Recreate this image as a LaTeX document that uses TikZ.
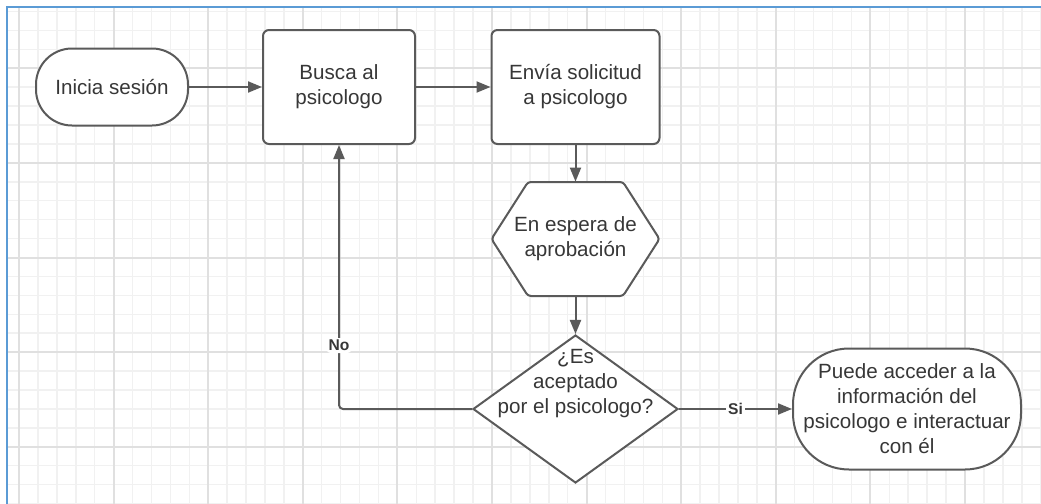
\documentclass[tikz,border=0pt]{standalone}
\usepackage{fontspec}
\setmainfont{Liberation Sans}
\usepackage{xcolor}
\usepackage{tikz}
\usetikzlibrary{shapes.geometric,arrows.meta}
\definecolor{lnGray}{RGB}{90,90,90}
\definecolor{txGray}{RGB}{55,55,55}
\definecolor{grMinor}{RGB}{241,241,241}
\definecolor{grMajor}{RGB}{224,224,224}
\definecolor{frBlue}{RGB}{91,155,213}

\begin{document}
\begin{tikzpicture}[x=0.5pt,y=0.5pt,
	every node/.style={font=\fontsize{10.3}{12.5}\selectfont, text=txGray, align=center},
	caja/.style={draw=lnGray, line width=1pt, fill=white, rounded corners=3pt, minimum width=76pt, minimum height=57pt},
	term/.style={draw=lnGray, line width=1pt, fill=white, rounded corners=18pt, inner sep=0pt, minimum width=76pt, minimum height=38.5pt},
	decis/.style={draw=lnGray, line width=1pt, fill=white, diamond, inner sep=0pt, minimum width=102.5pt, minimum height=74pt},
	conn/.style={draw=lnGray, line width=1pt, -{Triangle[length=7pt,width=5.5pt]}},
	etiq/.style={font=\fontsize{7.8}{9}\bfseries, fill=white, inner sep=1pt}]
						% fondo y cuadricula
						\useasboundingbox (0,0) rectangle (1041,-504);
						\fill[white] (0,0) rectangle (1041,-504);
						\foreach \i in {0,...,54}
							\draw[grMinor, line width=0.75pt] ({19+18.92*\i},-7) -- ({19+18.92*\i},-504);
						\foreach \j in {0,...,26}
							\draw[grMinor, line width=0.75pt] (7,{-11.54-18.92*\j}) -- (1041,{-11.54-18.92*\j});
						\foreach \i in {0,...,10}
							\draw[grMajor, line width=1pt] ({19+94.6*\i},-7) -- ({19+94.6*\i},-504);
						\foreach \j in {0,...,4}
							\draw[grMajor, line width=1pt] (7,{-68.3-94.6*\j}) -- (1041,{-68.3-94.6*\j});
						\draw[frBlue, line width=1pt] (6.5,-504) -- (6.5,-6.5) -- (1041,-6.5);
						
						\coordinate (I) at (112,-87);
						\coordinate (B) at (339,-87);
						\coordinate (E) at (575.5,-87);
						\coordinate (P) at (575.5,-239);
						\coordinate (D) at (575.5,-409);
						\coordinate (F) at (907,-409);
						
						% hexagono de espera
						\draw[lnGray, line width=1pt, fill=white, rounded corners=1.5pt]
							(528,-182) -- (623,-182) -- (659.5,-239) -- (623,-296) -- (528,-296) -- (491.5,-239) -- cycle;
						
						\node[term] (ini) at (I) {Inicia sesión};
						\node[caja] (busca) at (B) {Busca al\\psicologo};
						\node[caja, minimum width=84pt] (envia) at (E) {Envía solicitud\\a psicologo};
						\node[minimum width=84pt, minimum height=57pt, inner sep=0pt] (esp) at (P) {En espera de\\aprobación};
						\node[decis] (acep) at (D) {};
						\node (aceptxt) at ([yshift=12.5pt]D) {¿Es\\aceptado\\por el psicologo?};
						\node[term, rounded corners=28pt, minimum width=114pt, minimum height=60.5pt] (acceso) at (F) {Puede acceder a la\\información del\\psicologo e interactuar\\con él};
						
						\draw[conn] (ini) -- (busca);
						\draw[conn] (busca) -- (envia);
						\draw[conn] (envia) -- (esp);
						\draw[conn] (esp) -- (acep);
						\draw[conn, rounded corners=2pt] (acep.west) -| node[etiq, pos=0.62] (no) {No} (busca.south);
						\draw[conn] (acep.east) -- node[etiq] (si) {Si} (acceso);
					\end{tikzpicture}
\end{document}
